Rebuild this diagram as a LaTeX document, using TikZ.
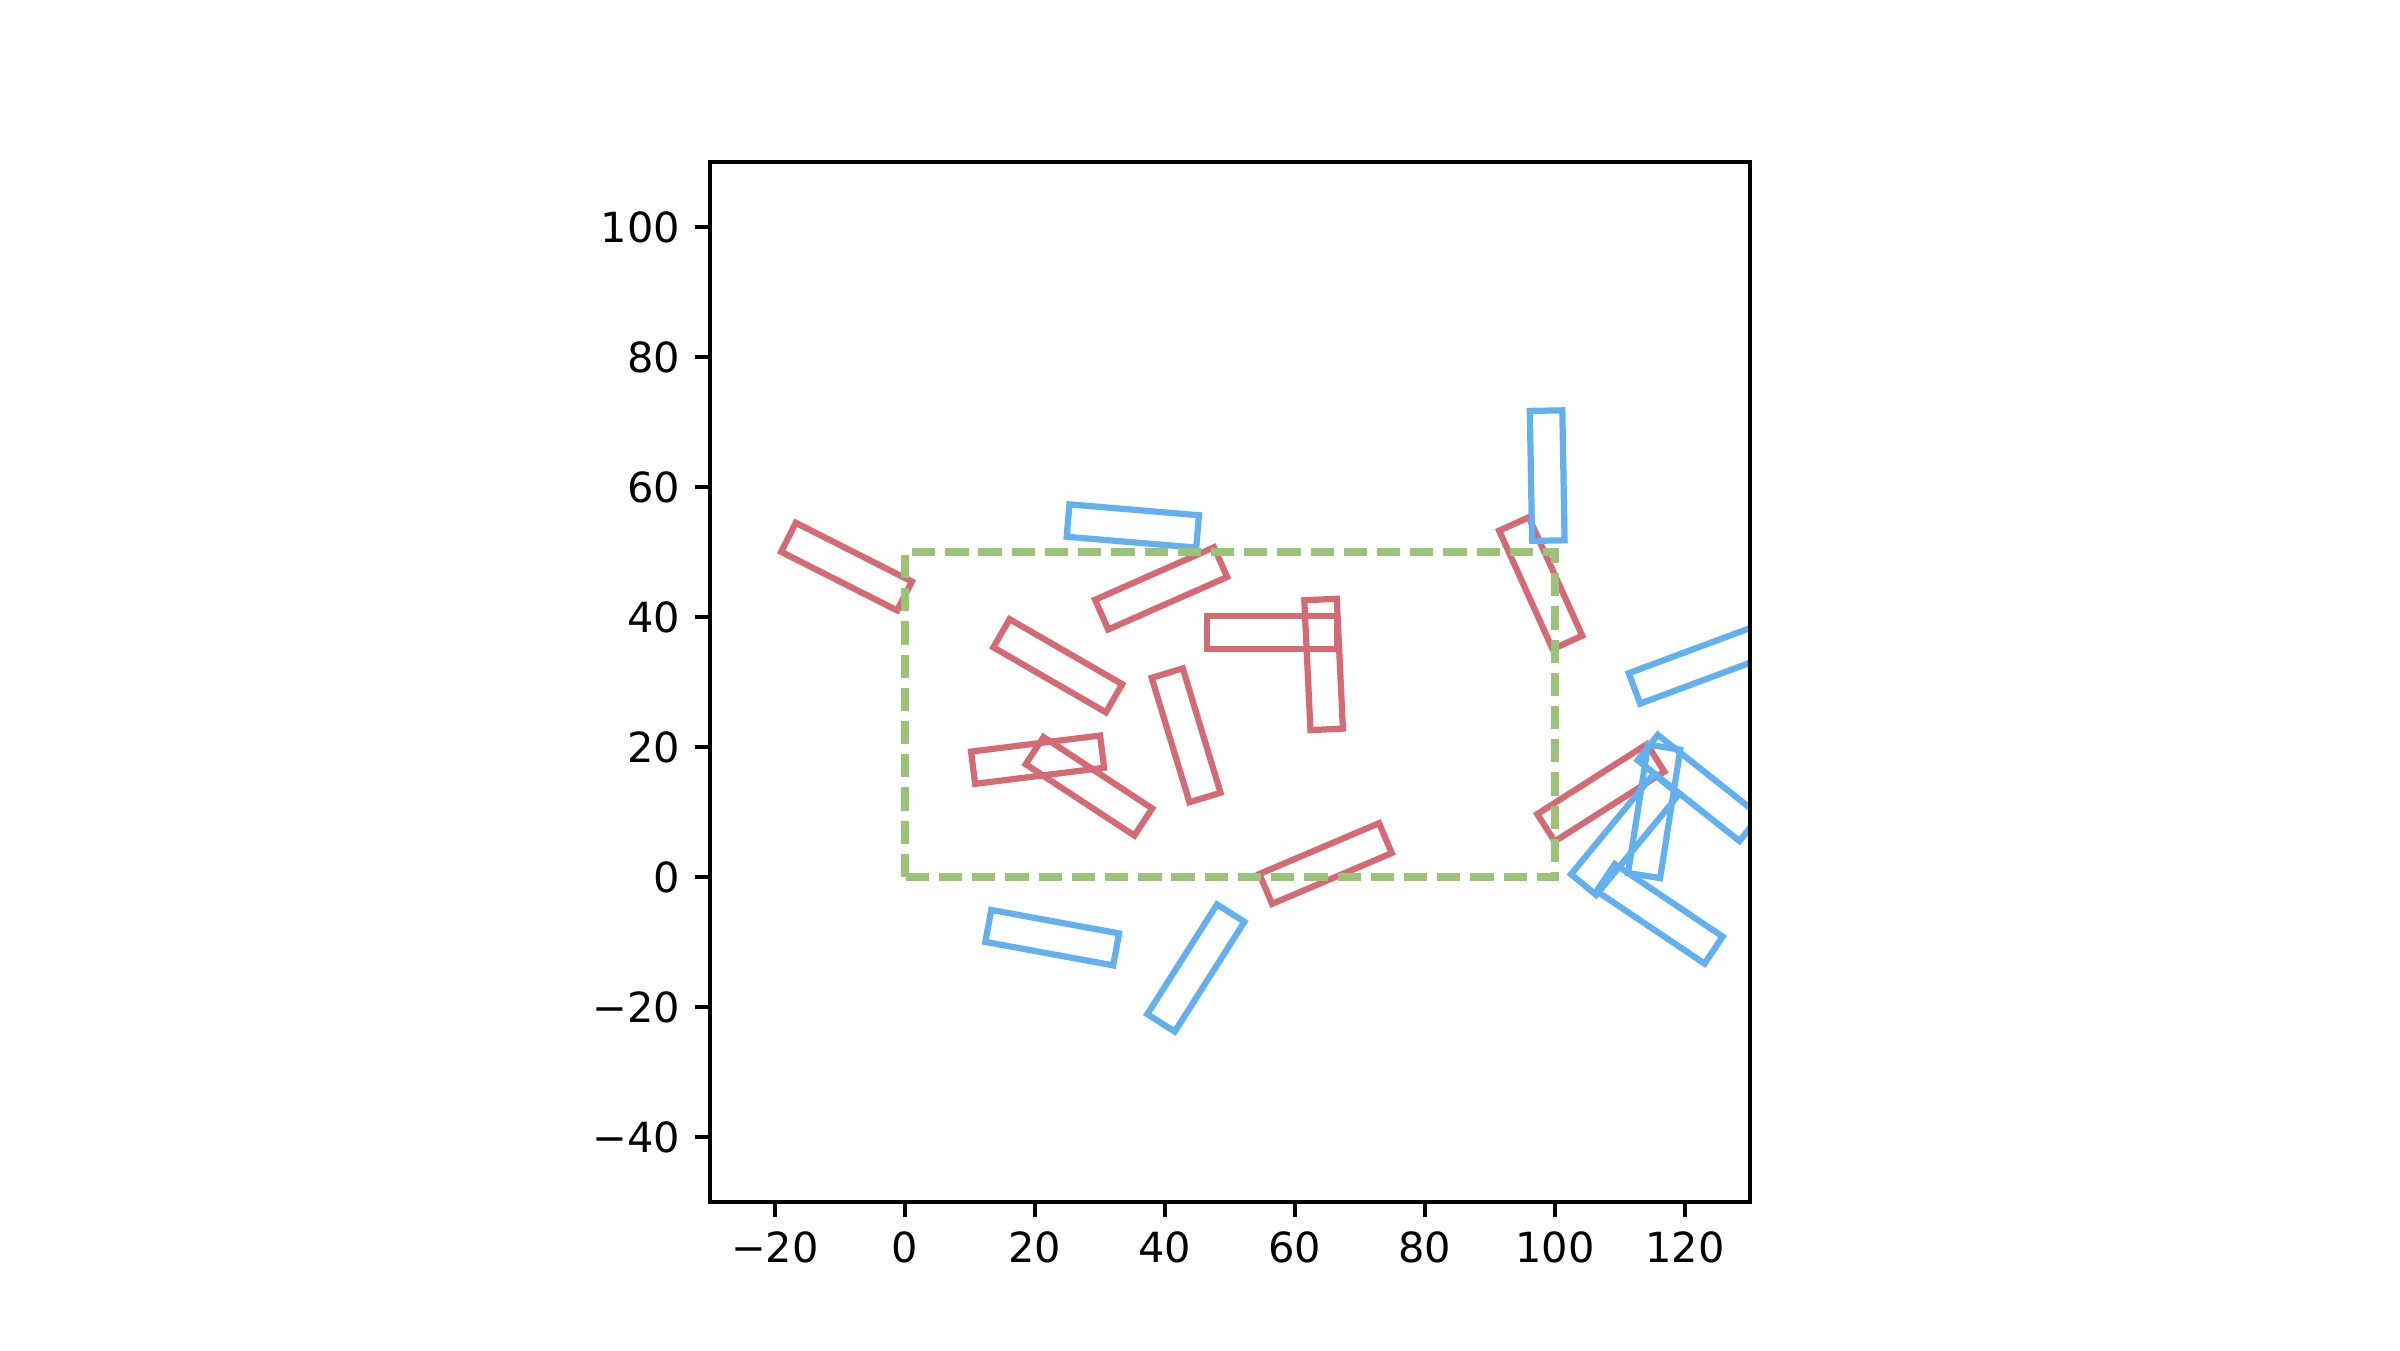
\documentclass[tikz,border=0pt]{standalone}
\usepackage{fontspec}
\setmainfont{DejaVu Sans}
\usepackage{xcolor}
\definecolor{carred}{HTML}{D46B74}
\definecolor{carblue}{HTML}{63B0EE}
\definecolor{lotgreen}{HTML}{9AC378}
\tikzstyle{redcar} = [draw=carred, line width=1.5pt]
\tikzstyle{bluecar} = [draw=carblue, line width=1.5pt]
\tikzstyle{lot} = [draw=lotgreen, line width=1.8pt, dash pattern=on 5.6pt off 2.4pt]
\tikzstyle{frame} = [black, line width=0.8pt]
\tikzstyle{ticklabel} = [inner sep=0pt, font=\fontsize{10}{12}\selectfont]
\newcommand{\car}[4]{\draw[#1, shift={(#2,#3)}, rotate=#4] (-10,-2.5) rectangle (10,2.5);}

\begin{document}
\begin{tikzpicture}[x=0.05504cm, y=0.05504cm]
\useasboundingbox (-139.23,-72.77) rectangle (230,134.92);

% Cars
\begin{scope}
\clip (-30,-50) rectangle (130,110);
\car{redcar}{-9.0}{47.75}{-26.8}
\car{redcar}{23.5}{32.5}{-30}
\car{redcar}{39.4}{44.4}{23.8}
\car{redcar}{43.25}{21.8}{-73.1}
\car{redcar}{56.5}{37.6}{0}
\car{redcar}{64.4}{32.7}{92.7}
\car{redcar}{20.4}{18.05}{7.1}
\car{redcar}{28.3}{13.95}{-33.3}
\car{redcar}{64.7}{2.07}{23}
\car{redcar}{97.8}{45.2}{-65.7}
\car{redcar}{107.05}{12.95}{32.5}
\car{bluecar}{35.05}{54.0}{-4.8}
\car{bluecar}{98.8}{61.75}{91}
\car{bluecar}{121.6}{32.5}{20.4}
\car{bluecar}{22.65}{-9.33}{-10.4}
\car{bluecar}{44.75}{-14.0}{57.6}
\car{bluecar}{122.1}{13.7}{-38.4}
\car{bluecar}{115.25}{10.1}{81.1}
\car{bluecar}{110.76}{6.55}{50.5}
\car{bluecar}{116.1}{-5.67}{-33.9}
% Lot
\draw[lot] (0,0) rectangle (100,50);
\end{scope}

% Axes
\draw[frame] (-30,-50) rectangle (130,110);
\foreach \x/\t in {-20/−20, 0/0, 20/20, 40/40, 60/60, 80/80, 100/100, 120/120} {
  \draw[frame] (\x,-50) -- ++(0,-3.5pt);
  \node[ticklabel, anchor=north] (xtick\x) at ([yshift=-7pt]\x,-50) {\t};
}
\foreach \y/\t in {-40/−40, -20/−20, 0/0, 20/20, 40/40, 60/60, 80/80, 100/100} {
  \draw[frame] (-30,\y) -- ++(-3.5pt,0);
  \node[ticklabel, anchor=east] (ytick\y) at ([xshift=-7pt]-30,\y) {\t};
}

\end{tikzpicture}
\end{document}
